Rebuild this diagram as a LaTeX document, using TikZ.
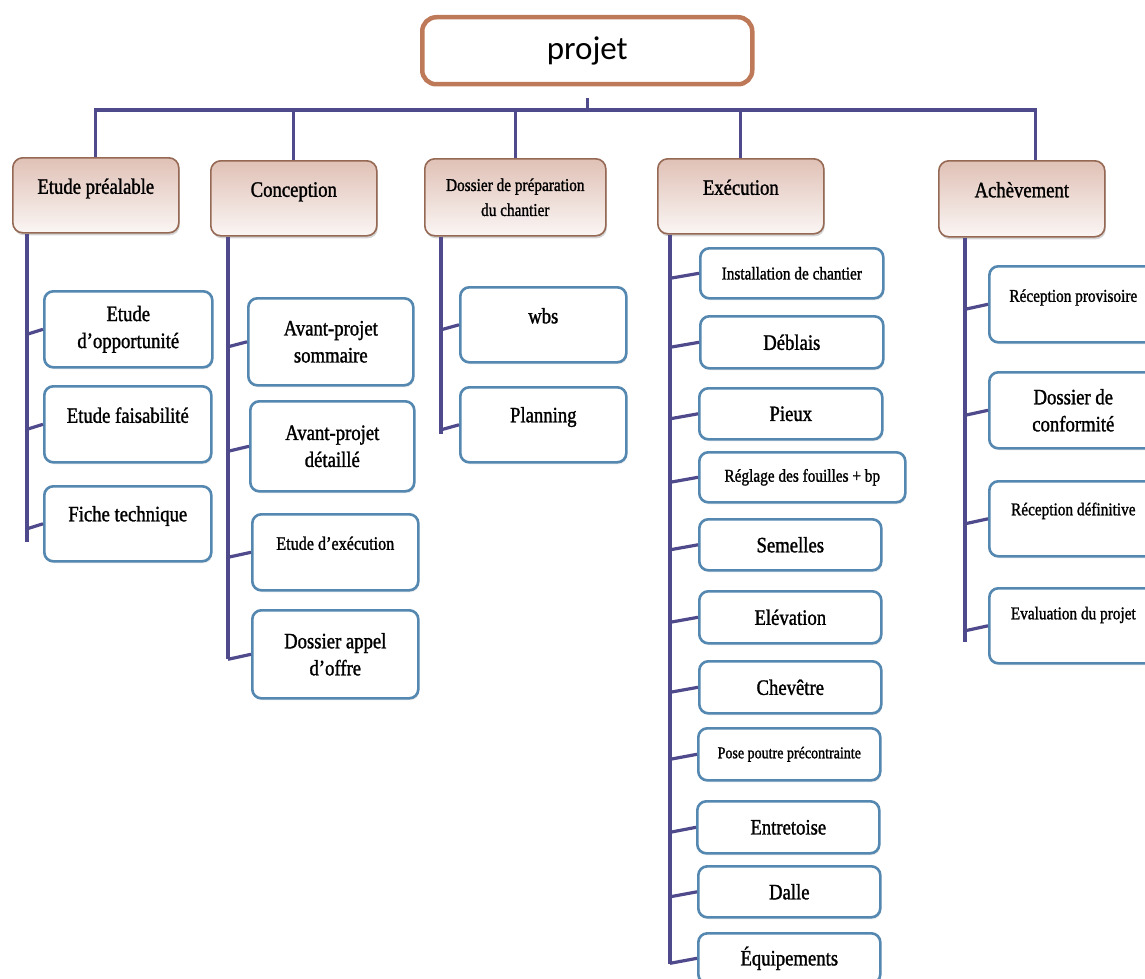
\documentclass[tikz,border=0pt]{standalone}
\usepackage{fontspec}
\setmainfont{Liberation Serif}[FakeStretch=0.85,FakeBold=1.3]
\newfontfamily\calibri{Carlito}
\usetikzlibrary{shadows}

\definecolor{bus}{RGB}{78,74,140}
\definecolor{brun}{RGB}{190,122,88}
\definecolor{bord}{RGB}{150,105,85}
\definecolor{rose}{RGB}{224,193,182}
\definecolor{bleu}{RGB}{84,136,176}

\begin{document}
\begin{tikzpicture}[x=1pt, y=-1pt,
  lien/.style={draw=bus, line width=3.2pt},
  tete/.style={draw=bord, line width=1.6pt, rounded corners=10pt, top color=rose, bottom color=rose!15,
    drop shadow={opacity=.35, shadow xshift=1pt, shadow yshift=-2.5pt},
    anchor=north west, align=center, font=\fontsize{22}{27}\selectfont},
  fils/.style={draw=bleu, line width=2.6pt, rounded corners=9pt, fill=white,
    drop shadow={opacity=.15, shadow xshift=1pt, shadow yshift=-2pt},
    anchor=north west, align=center, font=\fontsize{22}{27}\selectfont},
  petit/.style={font=\fontsize{18}{25}\selectfont},
  haut/.style={text height=15pt, text depth=#1},
  ]
\useasboundingbox (0,0) rectangle (1145,979);

\node[draw=brun, line width=4.5pt, rounded corners=14pt, minimum width=330pt, minimum height=67pt,
  anchor=north west, font=\calibri\fontsize{33}{36}\selectfont] (projet) at (420,15) {projet};

%phases
\node[tete, haut=18pt, minimum width=166pt, minimum height=75pt] (E1) at (12,157) {Etude préalable};
\node[tete, haut=18pt, minimum width=166pt, minimum height=75pt] (E2) at (210,160) {Conception};
\node[tete, petit, minimum width=181pt, minimum height=77pt] (E3) at (424,158) {Dossier de préparation\\du chantier};
\node[tete, haut=18pt, minimum width=166pt, minimum height=75pt] (E4) at (657,158) {Exécution};
\node[tete, haut=18pt, minimum width=166pt, minimum height=76pt] (E5) at (938,160) {Achèvement};

\coordinate (bus) at (0,110);
\draw[lien] (E1.north) -- (E1.north |- bus) -- ([xshift=14pt]E5.north |- bus) -- ([xshift=14pt]E5.north);
\foreach \n in {E2,E3,E4} \draw[lien] (\n.north |- bus) -- (\n.north);
\draw[lien, shorten <=12pt] (projet.south) -- (projet.south |- bus);

%colonnes
\draw[lien] ([xshift=15pt]E1.south west) coordinate (v1) -- ++(0,308);
\draw[lien] ([xshift=18pt]E2.south west) coordinate (v2) -- ++(0,422);
\draw[lien] ([xshift=17pt]E3.south west) coordinate (v3) -- ++(0,197);
\draw[lien] ([xshift=13pt]E4.south west) coordinate (v4) -- ++(0,729);
\draw[lien] ([xshift=27pt]E5.south west) coordinate (v5) -- ++(0,404);

%etude prealable
\node[fils, minimum width=168pt, minimum height=76pt] (c11) at (43,290) {Etude\\d’opportunité};
\node[fils, haut=18pt, minimum width=167pt, minimum height=76pt] (c12) at (43,385) {Etude faisabilité};
\node[fils, haut=20pt, minimum width=167pt, minimum height=75pt] (c13) at (43,485) {Fiche technique};

%conception
\node[fils, minimum width=165pt, minimum height=87pt] (c21) at (247,297) {Avant-projet\\sommaire};
\node[fils, minimum width=164pt, minimum height=90pt] (c22) at (249,400) {Avant-projet\\détaillé};
\node[fils, haut=20pt, font=\fontsize{19}{25}\selectfont, minimum width=166pt, minimum height=76pt] (c23) at (251,513) {Etude d’exécution};
\node[fils, minimum width=166pt, minimum height=88pt] (c24) at (251,609) {Dossier appel\\d’offre};

%dossier
\node[fils, haut=18pt, minimum width=166pt, minimum height=75pt] (c31) at (459,286) {wbs};
\node[fils, haut=20pt, minimum width=166pt, minimum height=75pt] (c32) at (459,386) {Planning};

%execution
\node[fils, petit, minimum width=183pt, minimum height=50pt] (c41) at (699,247) {Installation de chantier};
\node[fils, minimum width=183pt, minimum height=52pt] (c42) at (699,315) {Déblais};
\node[fils, minimum width=183pt, minimum height=51pt] (c43) at (698,387) {Pieux};
\node[fils, petit, minimum width=206pt, minimum height=50pt] (c44) at (698,451) {Réglage des fouilles + bp};
\node[fils, minimum width=182pt, minimum height=51pt] (c45) at (698,518) {Semelles};
\node[fils, minimum width=182pt, minimum height=52pt] (c46) at (698,590) {Elévation};
\node[fils, minimum width=182pt, minimum height=52pt] (c47) at (698,660) {Chevêtre};
\node[fils, font=\fontsize{16.5}{20}\selectfont, minimum width=182pt, minimum height=52pt] (c48) at (697,727) {Pose poutre précontrainte};
\node[fils, minimum width=182pt, minimum height=52pt] (c49) at (696,800) {Entretoise};
\node[fils, minimum width=182pt, minimum height=51pt] (c410) at (697,865) {Dalle};
\node[fils, minimum width=182pt, minimum height=50pt] (c411) at (697,932) {Équipements};

%achevement
\node[fils, petit, haut=20pt, minimum width=168pt, minimum height=76pt] (c51) at (988,265) {Réception provisoire};
\node[fils, minimum width=168pt, minimum height=76pt] (c52) at (988,371) {Dossier de\\conformité};
\node[fils, petit, haut=22pt, minimum width=168pt, minimum height=75pt] (c53) at (988,480) {Réception définitive};
\node[fils, petit, haut=28pt, minimum width=168pt, minimum height=75pt] (c54) at (988,587) {Evaluation du projet};

%liens
\foreach \n in {c11,c12,c13} \draw[lien] ([yshift=-5pt]\n.west -| v1) -- (\n.west);
\foreach \n in {c21,c22,c23,c24} \draw[lien] ([yshift=-5pt]\n.west -| v2) -- (\n.west);
\foreach \n in {c31,c32} \draw[lien] ([yshift=-5pt]\n.west -| v3) -- (\n.west);
\foreach \n in {c41,c42,c43,c44,c45,c46,c47,c48,c49,c410,c411} \draw[lien] ([yshift=-5pt]\n.west -| v4) -- (\n.west);
\foreach \n in {c51,c52,c53,c54} \draw[lien] ([yshift=-5pt]\n.west -| v5) -- (\n.west);
\end{tikzpicture}
\end{document}
